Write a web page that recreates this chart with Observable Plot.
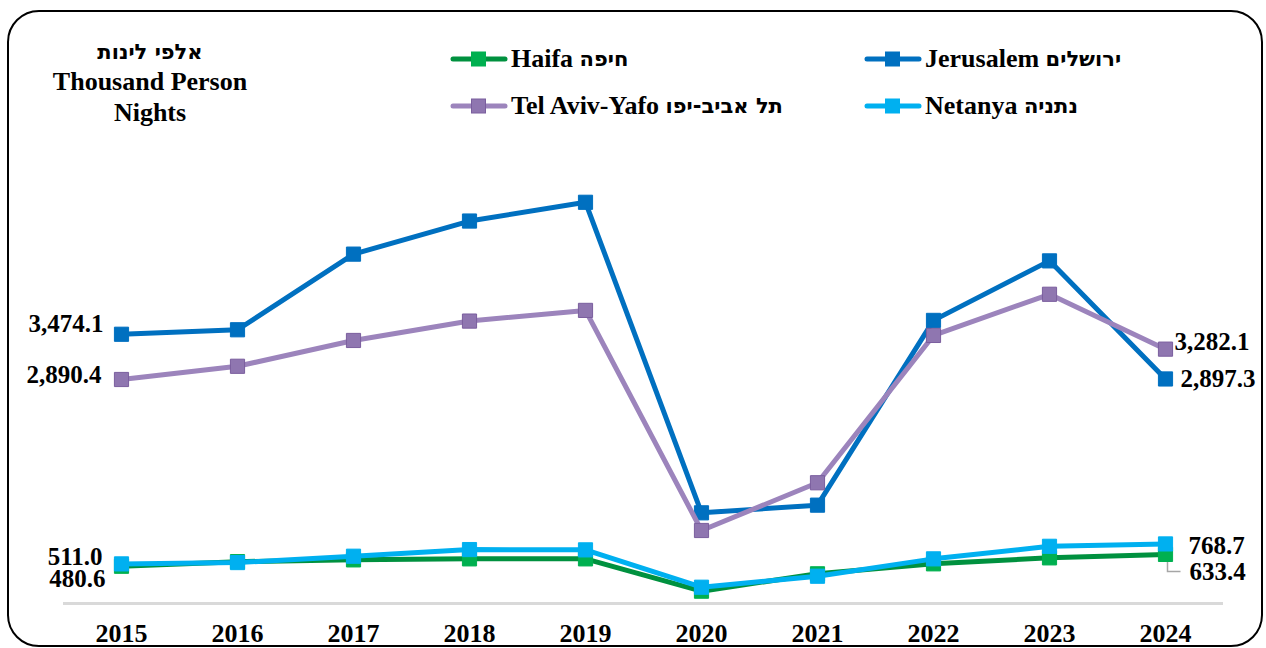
<!DOCTYPE html>
<html>
<head>
<meta charset="utf-8">
<script src="https://cdn.jsdelivr.net/npm/d3@7"></script>
<script src="https://cdn.jsdelivr.net/npm/@observablehq/plot@0.6"></script>
<style>
  html, body { margin: 0; padding: 0; background: #fff; }
  body { font-family: "Liberation Serif", "Times New Roman", serif; }
  #wrap { position: relative; width: 1266px; height: 648px; overflow: hidden; }
  #chart { position: absolute; left: 0; top: 0; }
  #border { position: absolute; left: 7px; top: 10px; width: 1256px; height: 637px; box-sizing: border-box;
            border: 2px solid #000; border-radius: 32px; pointer-events: none; }
  .tline { position: absolute; left: 50px; width: 200px; text-align: center; font-weight: bold;
           font-size: 26px; line-height: 26px; color: #000; white-space: nowrap; }
  .leg { position: absolute; height: 26px; display: flex; align-items: center; font-weight: bold;
         font-size: 26px; line-height: 26px; color: #000; white-space: nowrap; }
  .leg svg { margin-right: 3px; }
  .he { font-family: "DejaVu Sans", sans-serif; font-weight: bold; font-size: 21px; }
</style>
</head>
<body>
<div id="wrap">
  <div id="chart"></div>
  <div id="border"></div>
  <div class="tline" style="top:38px;" dir="rtl"><span class="he">אלפי לינות</span></div>
  <div class="tline" style="top:69px;">Thousand Person</div>
  <div class="tline" style="top:100px;">Nights</div>
</div>
<script>
// ---- Data ----
const years = [2015, 2016, 2017, 2018, 2019, 2020, 2021, 2022, 2023, 2024];
const jerusalem = [3474.1, 3532, 4508, 4935, 5177, 1170, 1269, 3653, 4421, 2897.3];
const telAviv   = [2890.4, 3061, 3394, 3644, 3782, 942, 1558, 3459, 3990, 3282.1];
const haifa     = [480.6, 540, 563, 576, 576, 159, 383, 512, 589, 633.4];
const netanya   = [511.0, 528, 610, 696, 692, 210, 352, 576, 738, 768.7];
const namesEn = ["Haifa", "Jerusalem", "Tel Aviv-Yafo", "Netanya"];
const namesHe = ["חיפה", "ירושלים", "תל אביב-יפו", "נתניה"];

// ---- Styles ----
const colors = {
  jer:  {line: "#0070C0", fill: "#0070C0", stroke: "#0070C0"},
  ta:   {line: "#9C84BC", fill: "#8F76B0", stroke: "#7A5E9E"},
  hai:  {line: "#00913F", fill: "#00B050", stroke: "#00B050"},
  net:  {line: "#00B0F0", fill: "#00B0F0", stroke: "#00B0F0"}
};

const rows = (vals) => years.map((year, i) => ({year, value: vals[i]}));
const J = rows(jerusalem), T = rows(telAviv), H = rows(haifa), N = rows(netanya);
const fmt = d3.format(",.1f");

const lineOpts = (c) => ({x: "year", y: "value", stroke: c.line, strokeWidth: 5, strokeLinejoin: "round", strokeLinecap: "round"});
const dotOpts = (c) => ({x: "year", y: "value", symbol: "square", r: 8, fill: c.fill, stroke: c.stroke, strokeWidth: 1});
const labelOpts = (anchor, dx, dy) => ({x: "year", y: "value", text: d => fmt(d.value), textAnchor: anchor,
  dx, dy, fontSize: 25, fontWeight: "bold", fill: "#000"});

const leader = {
  draw(ctx) { ctx.moveTo(2, -2); ctx.lineTo(2, 17); ctx.lineTo(15, 17); }
};

const chart = Plot.plot({
  width: 1266,
  height: 648,
  marginLeft: 63,
  marginRight: 43,
  marginTop: 138,
  marginBottom: 45,
  style: {fontFamily: "Liberation Serif, Times New Roman, serif", background: "transparent", color: "#000", overflow: "visible"},
  x: {type: "point", domain: years, padding: 0.5, label: null},
  y: {domain: [0, 6000], axis: null},
  marks: [
    Plot.ruleY([0], {stroke: "#d9d9d9", strokeWidth: 3}),
    Plot.axisX({tickSize: 0, tickPadding: 20, fontSize: 26, fontWeight: "bold", tickFormat: d => String(d), fill: "#000", label: null}),
    Plot.line(J, lineOpts(colors.jer)),
    Plot.dot(J, dotOpts(colors.jer)),
    Plot.line(T, lineOpts(colors.ta)),
    Plot.dot(T, dotOpts(colors.ta)),
    Plot.line(H, lineOpts(colors.hai)),
    Plot.dot([H[H.length - 1]], {x: "year", y: "value", symbol: leader, r: 1, fill: "none", stroke: "#a6a6a6", strokeWidth: 1.5}),
    Plot.dot(H, dotOpts(colors.hai)),
    Plot.line(N, lineOpts(colors.net)),
    Plot.dot(N, dotOpts(colors.net)),
    // first-year labels
    Plot.text([J[0]], labelOpts("end", -18, -10.5)),
    Plot.text([T[0]], labelOpts("end", -20, -4.5)),
    Plot.text([N[0]], labelOpts("end", -19, -7)),
    Plot.text([H[0]], labelOpts("end", -16, 13)),
    // last-year labels
    Plot.text([T[T.length - 1]], labelOpts("start", 9, -7)),
    Plot.text([J[J.length - 1]], labelOpts("start", 15, 0.5)),
    Plot.text([N[N.length - 1]], labelOpts("start", 23, 2)),
    Plot.text([H[H.length - 1]], labelOpts("start", 24, 17.5))
  ]
});
document.getElementById("chart").appendChild(chart);

// ---- Legend ----
const legendItems = [
  {i: 0, c: colors.hai, left: 450, cy: 59},
  {i: 1, c: colors.jer, left: 864, cy: 59},
  {i: 2, c: colors.ta,  left: 450, cy: 106},
  {i: 3, c: colors.net, left: 864, cy: 106}
];
const wrap = document.getElementById("wrap");
for (const it of legendItems) {
  const div = document.createElement("div");
  div.className = "leg";
  div.style.left = it.left + "px";
  div.style.top = (it.cy - 13) + "px";
  div.innerHTML =
    `<svg width="58" height="18" viewBox="0 0 58 18">` +
    `<line x1="3" y1="9" x2="55" y2="9" stroke="${it.c.line}" stroke-width="5" stroke-linecap="round"/>` +
    `<rect x="21.5" y="2" width="14" height="14" fill="${it.c.fill}" stroke="${it.c.stroke}" stroke-width="1"/>` +
    `</svg><span>${namesEn[it.i]}&nbsp;</span><span class="he" dir="rtl">${namesHe[it.i]}</span>`;
  wrap.appendChild(div);
}
</script>
</body>
</html>
